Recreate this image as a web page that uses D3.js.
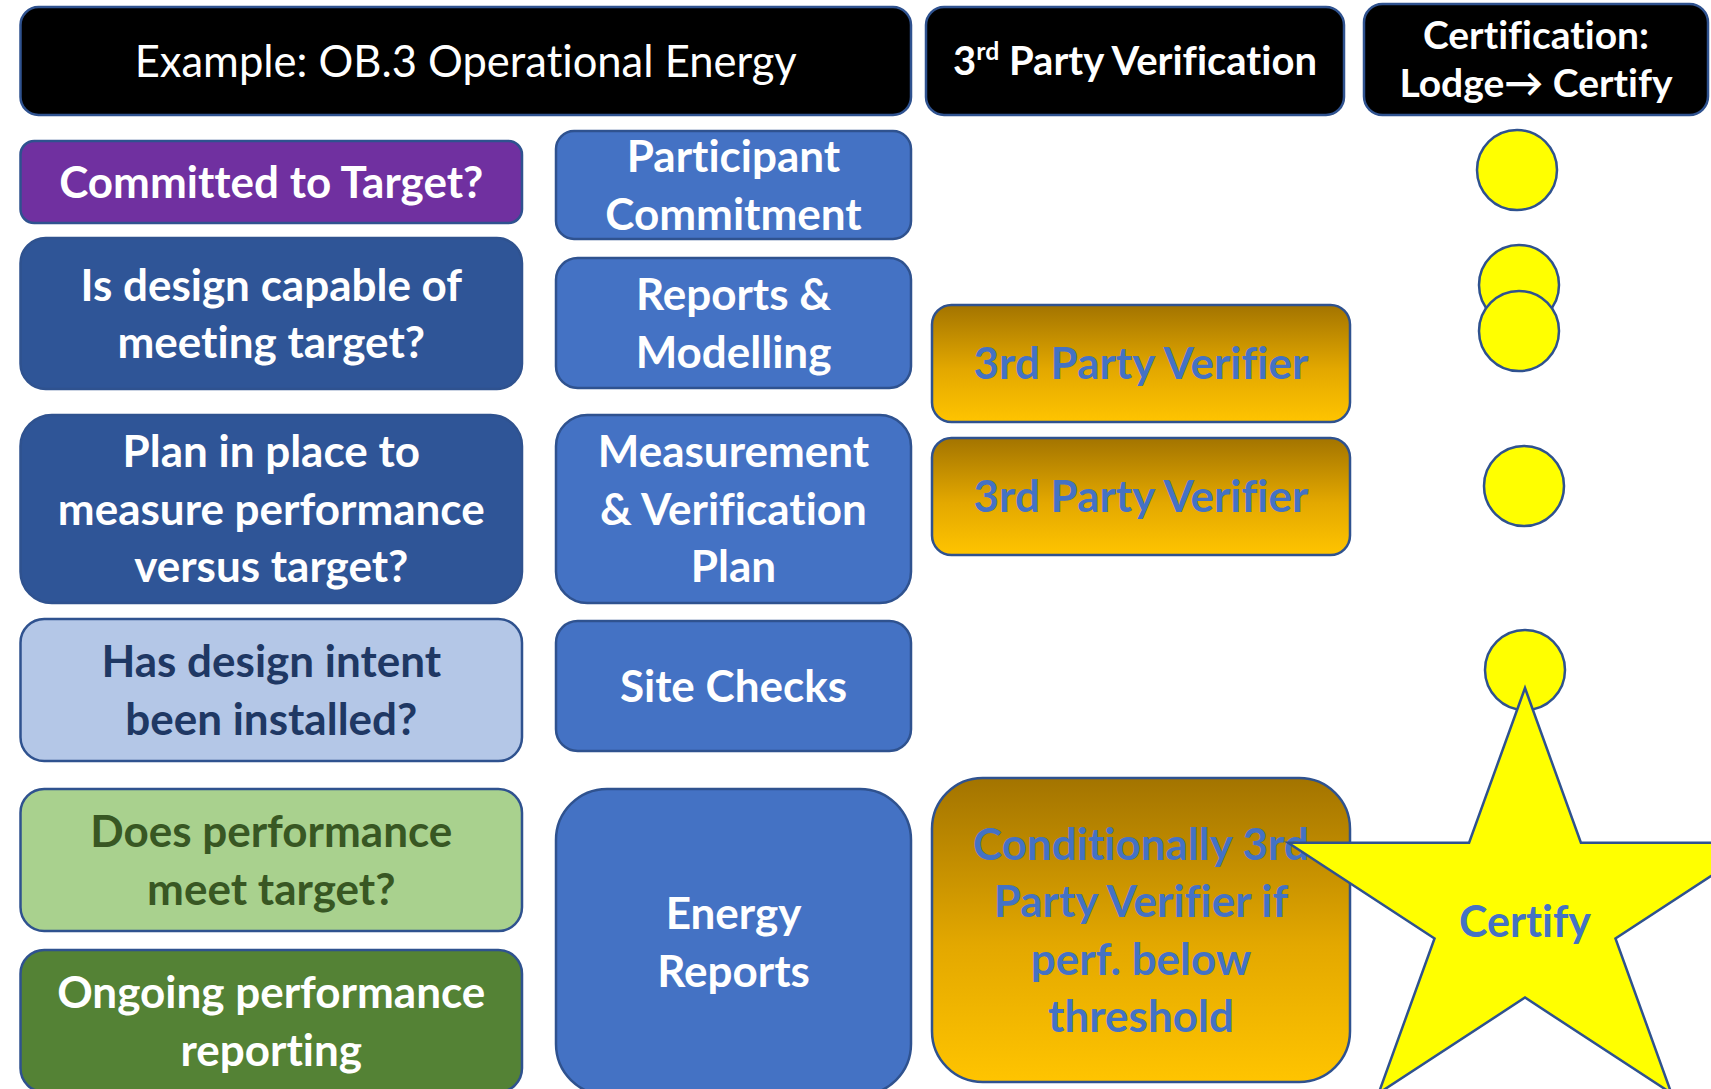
<!DOCTYPE html>
<html>
<head>
<meta charset="utf-8">
<script src="https://cdn.jsdelivr.net/npm/d3@7"></script>
<style>
  html, body { margin: 0; padding: 0; background: #fff; overflow: hidden; }
  svg text { font-family: Lato, "Open Sans", sans-serif; font-variant-ligatures: none; }
</style>
</head>
<body>
<div id="chart"></div>
<script>
// labels of the diagram ("|" splits lines)
var headerLabels = ["Example: OB.3 Operational Energy", "3rd Party Verification", "Certification:|Lodge\u2192 Certify"];
var questionLabels = [
  "Committed to Target?",
  "Is design capable of|meeting target?",
  "Plan in place to|measure performance|versus target?",
  "Has design intent|been installed?",
  "Does performance|meet target?",
  "Ongoing performance|reporting"
];
var questionKinds = ["purple", "navy", "navy", "pale", "lightgreen", "green"];
var evidenceLabels = [
  "Participant|Commitment",
  "Reports &|Modelling",
  "Measurement|& Verification|Plan",
  "Site Checks",
  "Energy|Reports"
];
var verifierLabels = [
  "3rd Party Verifier",
  "3rd Party Verifier",
  "Conditionally 3rd|Party Verifier if|perf. below|threshold"
];
var lodgeStages = ["Commitment", "Design", "Modelling", "M&V Plan", "Site Checks"];
var certifyLabel = "Certify";

// layout (pixel extents of each column / box)
var W = 1711, H = 1089;
var cols = {
  headA: [20.5, 911], headB: [926, 1344], headC: [1364, 1708],
  q: [20.5, 522], e: [556, 911], v: [932, 1350], c: [1364, 1708]
};
var headerY = [[7, 115], [7, 115], [4, 115]];
var questionY = [[141, 223], [238, 389], [415, 603], [619, 761], [789, 931], [950, 1092]];
var evidenceY = [[131, 239], [258, 388], [415, 603], [621, 751], [789, 1095]];
var verifierY = [[305, 422], [438, 555], [778, 1082]];
var lodgeXY = [[1517, 170], [1519, 285], [1519, 331], [1524, 486], [1525, 670]];
var star = {cx: 1525, cy: 912, rx: 249, ry: 224, inner: 0.382};

var styles = {
  header:     {fill: "#000000", text: "#ffffff"},
  purple:     {fill: "#7030A0", text: "#ffffff"},
  navy:       {fill: "#2F5597", text: "#ffffff"},
  pale:       {fill: "#B4C7E7", text: "#1F3864"},
  lightgreen: {fill: "#A9D18E", text: "#385723"},
  green:      {fill: "#548235", text: "#ffffff"},
  blue:       {fill: "#4472C4", text: "#ffffff"},
  gold:       {fill: "url(#goldGrad)", text: "#4472C4"}
};
var outline = "#2F528F";
var fs = 44, lineGap = 57.5, capH = 0.7165;

var svg = d3.select("#chart").append("svg")
  .attr("width", W).attr("height", H);

var grad = svg.append("defs").append("linearGradient")
  .attr("id", "goldGrad").attr("x1", 0).attr("y1", 0).attr("x2", 0).attr("y2", 1);
grad.append("stop").attr("offset", "0%").attr("stop-color", "#A37400");
grad.append("stop").attr("offset", "55%").attr("stop-color", "#E3A800");
grad.append("stop").attr("offset", "100%").attr("stop-color", "#FFC400");

// build one list of boxes
var boxes = [];
headerLabels.forEach(function(t, i) {
  var c = [cols.headA, cols.headB, cols.headC][i];
  boxes.push({label: t, kind: "header", x: c, y: headerY[i], size: [43.5, 40, 39][i], weight: i == 0 ? 400 : 700, gap: 48});
});
questionLabels.forEach(function(t, i) {
  boxes.push({label: t, kind: questionKinds[i], x: cols.q, y: questionY[i], size: fs, weight: 700, gap: lineGap});
});
evidenceLabels.forEach(function(t, i) {
  boxes.push({label: t, kind: "blue", x: cols.e, y: evidenceY[i], size: fs, weight: 700, gap: lineGap});
});
verifierLabels.forEach(function(t, i) {
  boxes.push({label: t, kind: "gold", x: cols.v, y: verifierY[i], size: fs, weight: 700, gap: lineGap});
});

var g = svg.selectAll("g.box").data(boxes).enter().append("g").attr("class", "box");

g.append("rect")
  .attr("x", d => d.x[0]).attr("y", d => d.y[0])
  .attr("width", d => d.x[1] - d.x[0]).attr("height", d => d.y[1] - d.y[0])
  .attr("rx", d => Math.min(d.x[1] - d.x[0], d.y[1] - d.y[0]) / 6)
  .attr("fill", d => styles[d.kind].fill)
  .attr("stroke", outline).attr("stroke-width", 2.5);

g.each(function(d) {
  var lines = d.label.split("|");
  var cx = (d.x[0] + d.x[1]) / 2, cy = (d.y[0] + d.y[1]) / 2;
  var t = d3.select(this).append("text")
    .attr("text-anchor", "middle")
    .attr("fill", styles[d.kind].text)
    .attr("font-weight", d.weight)
    .attr("font-size", d.size);
  lines.forEach(function(line, k) {
    var y = cy + (k - (lines.length - 1) / 2) * d.gap + d.size * capH / 2;
    var ts = t.append("tspan").attr("x", cx).attr("y", y);
    if (d.kind == "header" && line.indexOf("3rd") == 0) {
      ts.append("tspan").text("3");
      ts.append("tspan").attr("font-size", d.size * 0.62).attr("dy", -d.size * 0.38).text("rd");
      ts.append("tspan").attr("dy", d.size * 0.38).text(" Party Verification");
    } else {
      ts.text(line);
    }
  });
});

// lodge markers
svg.selectAll("ellipse.lodge").data(lodgeStages).enter().append("ellipse")
  .attr("class", "lodge")
  .attr("cx", (d, i) => lodgeXY[i][0]).attr("cy", (d, i) => lodgeXY[i][1])
  .attr("rx", 40).attr("ry", 40)
  .attr("fill", "#FFFF00").attr("stroke", outline).attr("stroke-width", 2.5);

// certify star
var pts = d3.range(10).map(function(k) {
  var a = k * Math.PI / 5, r = k % 2 ? star.inner : 1;
  return [star.cx + Math.sin(a) * star.rx * r, star.cy - Math.cos(a) * star.ry * r];
});
svg.append("path")
  .attr("d", d3.line()(pts) + "Z")
  .attr("fill", "#FFFF00").attr("stroke", outline).attr("stroke-width", 2.5)
  .attr("stroke-linejoin", "miter");
svg.append("text")
  .attr("x", star.cx).attr("y", star.cy + 10 + 43 * capH / 2)
  .attr("text-anchor", "middle").attr("font-weight", 700).attr("font-size", 43)
  .attr("fill", "#4472C4").text(certifyLabel);
</script>
</body>
</html>
